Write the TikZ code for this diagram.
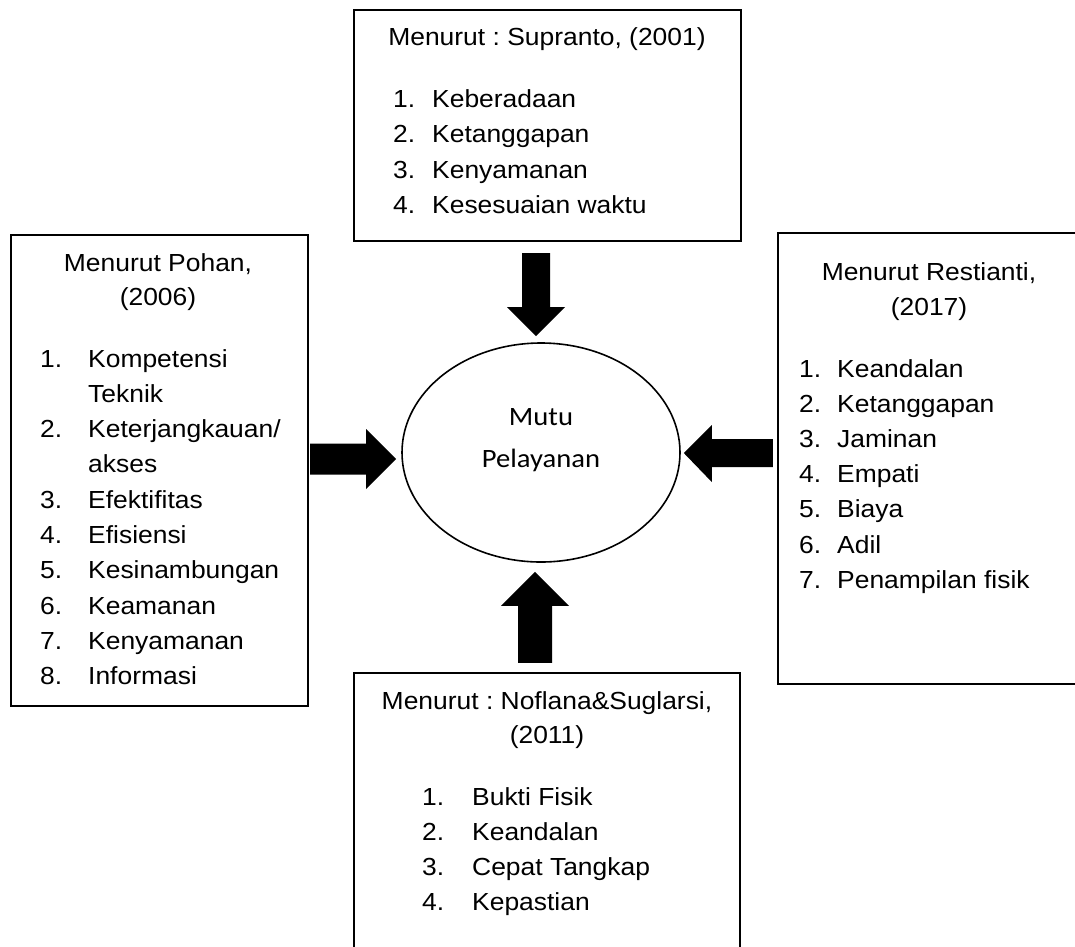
\documentclass[tikz,border=0pt]{standalone}
\usepackage{fontspec}
\setmainfont{Liberation Sans}[FakeStretch=1.07]
\newfontfamily\calib{Carlito}[FakeStretch=1.08]
\usetikzlibrary{shapes.geometric}
\frenchspacing
\begin{document}
\begin{tikzpicture}[x=1pt,y=-1pt,
  box/.style={draw, line width=1.6pt, anchor=north west, inner sep=0pt},
  itm/.style={anchor=base west, inner sep=0pt, font=\frenchspacing\fontsize{24.7}{30}\selectfont},
  ttl/.style={anchor=base, inner sep=0pt, font=\frenchspacing\fontsize{24.7}{30}\selectfont},
  lbl/.style={anchor=base, inner sep=0pt, font=\calib\fontsize{26.5}{32}\selectfont},
  bigarrow/.style={fill=black, draw=none}]
\useasboundingbox (0,0) rectangle (1075,946);
\fill[white] (0,0) rectangle (1075,946);
\clip (0,0) rectangle (1075,946);

% boxes
\node[box, minimum width=387pt, minimum height=231pt] (top) at (353,9) {};
\node[box, minimum width=297pt, minimum height=471pt] (left) at (10,234) {};
\node[box, minimum width=330pt, minimum height=451pt] (right) at (777,232) {};
\node[box, minimum width=386pt, minimum height=300pt] (bot) at (353,672) {};

% ellipse
\node[draw, ellipse, line width=1.6pt, minimum width=278pt, minimum height=219pt, inner sep=0pt] (ell) at (541,452.5) {};
\node[lbl] (mutu) at (541,425) {Mutu};
\node[lbl] (pelayanan) at (541,467) {Pelayanan};

% top box text
\node[ttl] (toptitle) at (547,45) {Menurut : Supranto, (2001)};
\foreach \t [count=\i] in {Keberadaan, Ketanggapan, Kenyamanan, Kesesuaian waktu}
  \node[itm] (t\i) at (393,{107+35.5*(\i-1)}) {\makebox[39pt][l]{\i.}\t};

% left box text
\node[ttl] (lefttitle) at (158,271) {Menurut Pohan,};
\node[ttl] (leftyear) at (158,305) {(2006)};
\foreach \n/\t [count=\i] in {1./Kompetensi, /Teknik, 2./{Keterjangkauan/}, /akses, 3./Efektifitas, 4./Efisiensi, 5./Kesinambungan, 6./Keamanan, 7./Kenyamanan, 8./Informasi}
  \node[itm] (l\i) at (40,{367+35.3*(\i-1)}) {\makebox[48pt][l]{\n}\t};

% right box text
\node[ttl] (righttitle) at (929,280) {Menurut Restianti,};
\node[ttl] (rightyear) at (929,315) {(2017)};
\foreach \t [count=\i] in {Keandalan, Ketanggapan, Jaminan, Empati, Biaya, Adil, Penampilan fisik}
  \node[itm] (r\i) at (799,{377+35.2*(\i-1)}) {\makebox[38pt][l]{\i.}\t};

% bottom box text
\node[ttl] (bottitle) at (547,709) {Menurut : Noflana\&Suglarsi,};
\node[ttl] (botyear) at (547,743) {(2011)};
\foreach \t [count=\i] in {Bukti Fisik, Keandalan, Cepat Tangkap, Kepastian}
  \node[itm] (b\i) at (422,{805+35.3*(\i-1)}) {\makebox[50pt][l]{\i.}\t};

% block arrows pointing at the ellipse
\fill[bigarrow] ([shift={(-5,-6)}]ell.north) -- ++(29,-29) -- ++(-15,0) -- ++(0,-54) -- ++(-28,0) -- ++(0,54) -- ++(-15,0) -- cycle;
\fill[bigarrow] ([shift={(-5,6.5)}]ell.west) -- ++(-30,-30) -- ++(0,14.5) -- ++(-56,0) -- ++(0,31) -- ++(56,0) -- ++(0,14.5) -- cycle;
\fill[bigarrow] ([shift={(3,0.5)}]ell.east) -- ++(28,-28) -- ++(0,14) -- ++(61,0) -- ++(0,28) -- ++(-61,0) -- ++(0,15) -- cycle;
\fill[bigarrow] ([shift={(-6,9)}]ell.south) -- ++(34,34) -- ++(-17,0) -- ++(0,57) -- ++(-34,0) -- ++(0,-57) -- ++(-17,0) -- cycle;
\end{tikzpicture}
\end{document}
